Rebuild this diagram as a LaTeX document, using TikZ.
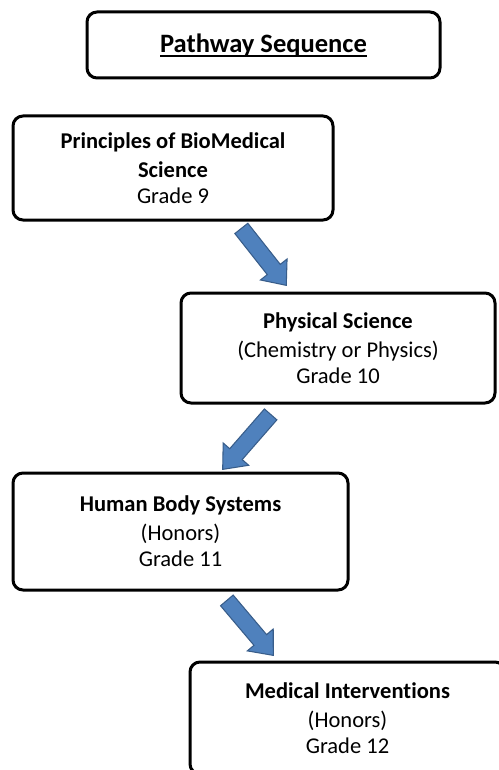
\documentclass[tikz,border=0pt]{standalone}
\usepackage{fontspec}
\setmainfont{Carlito}[Ligatures=NoCommon]
\usepackage{tikz}
\usepackage{xcolor}
\usetikzlibrary{calc,positioning,shapes.arrows}
\definecolor{arrowblue}{RGB}{79,129,189}
\definecolor{arrowedge}{RGB}{56,93,138}
\newcommand{\underrule}[1]{\setbox0\hbox{#1}\rlap{\rule[-0.17em]{\wd0}{0.075em}}\box0}

\begin{document}
\begin{tikzpicture}[x=0.75pt, y=-0.75pt]
    \tikzset{
        course/.style={rectangle, rounded corners=7.5pt, draw=black, line width=2.25pt, inner sep=0pt, align=center, font=\fontsize{16.9}{19.5}\selectfont},
        heading/.style={course, font=\fontsize{19.9}{24}\selectfont\bfseries},
        blockarrow/.style={single arrow, draw=arrowedge, fill=arrowblue, line width=0.8pt, single arrow head extend=6.5pt, single arrow tip angle=80, inner xsep=0pt, inner ysep=5.8pt, anchor=tail},
    }
    \useasboundingbox (0,0) rectangle (499,770);
    \clip (0,0) rectangle (499,770);

    \node[heading, minimum width=264.75pt, minimum height=49.5pt] (title) at (263.5,45) {\underrule{Pathway Sequence}};
    \node[course, minimum width=240pt, minimum height=78pt] (grade9) at (173,168) {\textbf{Principles of BioMedical}\\[2pt]\textbf{Science}\\Grade 9};
    \node[course, minimum width=235.5pt, minimum height=82.5pt] (grade10) at (338,348) {\textbf{Physical Science}\\[2pt](Chemistry or Physics)\\Grade 10};
    \node[course, minimum width=251.25pt, minimum height=87.75pt] (grade11) at (180.5,531.5) {\textbf{Human Body Systems}\\[2pt](Honors)\\Grade 11};
    \node[course, minimum width=236.25pt, minimum height=84pt] (grade12) at (347.5,718) {\textbf{Medical Interventions}\\[2pt](Honors)\\Grade 12};

    % block arrows between the courses
    \coordinate (tail1) at (241,228);
    \coordinate (tip1) at (286,285);
    \coordinate (tail2) at (271,414);
    \coordinate (tip2) at (223,469);
    \coordinate (tail3) at (226.5,600);
    \coordinate (tip3) at (273,655);
    \foreach \i in {1,2,3}
        \path let \p1=($(tip\i)-(tail\i)$), \n1={veclen(\x1,\y1)}, \n2={atan2(\y1,\x1)} in
            node[blockarrow, minimum height=\n1, rotate=\n2] (arrow\i) at (tail\i) {};

\end{tikzpicture}
\end{document}
